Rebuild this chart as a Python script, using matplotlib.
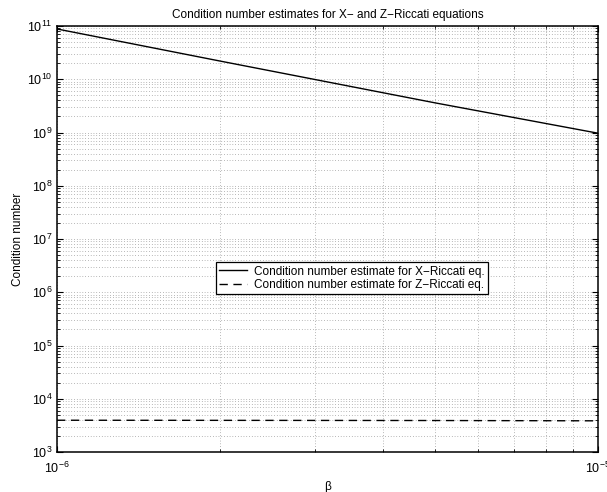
import matplotlib
matplotlib.use("Agg")
import matplotlib.pyplot as plt
from matplotlib.ticker import LogLocator, NullFormatter

plt.rcParams['font.family'] = ['Liberation Sans', 'DejaVu Sans']
plt.rcParams['mathtext.fontset'] = 'custom'
plt.rcParams['mathtext.rm'] = 'Liberation Sans'
plt.rcParams['mathtext.it'] = 'Liberation Sans:italic'
plt.rcParams['mathtext.bf'] = 'Liberation Sans:bold'

# beta values and condition number estimates
beta = [1e-6, 2e-6, 5e-6, 1e-5]
cond_x = [8.8e10, 2.2e10, 3.6e9, 9.7e8]
cond_z = [3.95e3, 3.93e3, 3.9e3, 3.85e3]

title = "Condition number estimates for X\u2212 and Z\u2212Riccati equations"
label_x = "Condition number estimate for X\u2212Riccati eq."
label_z = "Condition number estimate for Z\u2212Riccati eq."

fig = plt.figure(figsize=(6.07, 4.92), dpi=100)
ax = fig.add_axes([57 / 607, 40 / 492, 541 / 607, 426 / 492])

ax.loglog(beta, cond_x, color='black', lw=1.0, label=label_x)
ax.loglog(beta, cond_z, color='black', lw=1.0, ls=(0, (6, 4)), label=label_z)

ax.set_xlim(1e-6, 1e-5)
ax.set_ylim(1e3, 1e11)

ax.yaxis.set_major_locator(LogLocator(base=10, numticks=20))
ax.yaxis.set_minor_locator(LogLocator(base=10, subs=range(2, 10), numticks=20))
ax.xaxis.set_minor_locator(LogLocator(base=10, subs=range(2, 10), numticks=20))
ax.xaxis.set_minor_formatter(NullFormatter())
ax.yaxis.set_minor_formatter(NullFormatter())

ax.grid(True, which='both', ls=(0, (1, 3)), color='#777777', lw=0.5)

for s in ax.spines.values():
    s.set_linewidth(1.1)

ax.tick_params(which='both', direction='in', top=True, right=True, labelsize=9)
ax.tick_params(which='major', length=4, width=0.8)
ax.tick_params(which='minor', length=2.5, width=0.6)
ax.tick_params(axis='x', which='major', pad=6)

ax.set_title(title, fontsize=8.5, pad=6)
ax.set_xlabel("\u03b2", fontsize=8.5, labelpad=4)
ax.set_ylabel("Condition number", fontsize=8.5, labelpad=2)

leg = ax.legend(loc='center', bbox_to_anchor=(0.545, 0.408), fontsize=8.5,
                frameon=True, fancybox=False, framealpha=1, edgecolor='black',
                handlelength=2.3, borderpad=0.3, labelspacing=0.1,
                handletextpad=0.6, borderaxespad=0)
leg.get_frame().set_linewidth(0.9)

fig.savefig("out.png", dpi=100)
